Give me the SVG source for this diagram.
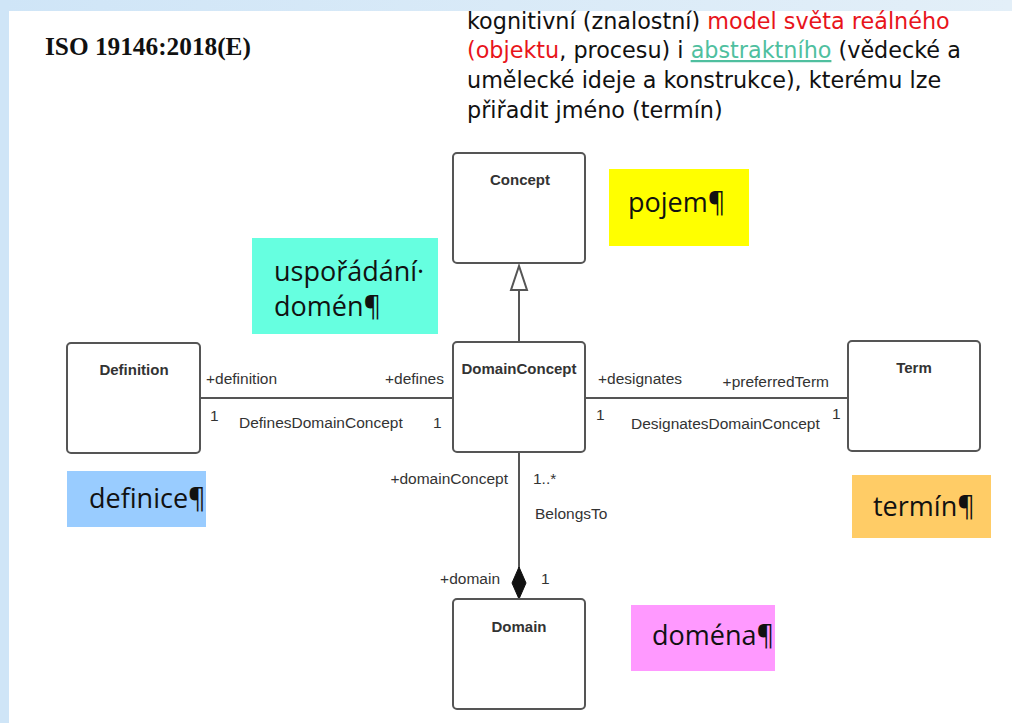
<svg xmlns="http://www.w3.org/2000/svg" width="1012" height="723" viewBox="0 0 1012 723">
<defs>
<linearGradient id="topg" x1="0" y1="0" x2="1" y2="0">
<stop offset="0" stop-color="#cfe5f7"/><stop offset="1" stop-color="#e3eff8"/>
</linearGradient>
</defs>
<style>
.cls{fill:#fff;stroke:#555;stroke-width:2}
.cn{font-family:"Liberation Sans",Arial,sans-serif;font-size:15px;font-weight:bold;fill:#333;text-anchor:middle}
.lb{font-family:"Liberation Sans",Arial,sans-serif;font-size:15.5px;fill:#333}
.ln{stroke:#555;stroke-width:2;fill:none}
.note{font-family:"Open Sans","Noto Sans",sans-serif;font-size:27px;fill:#111}
.para{font-family:"DejaVu Sans",Verdana,sans-serif;font-size:22.3px;fill:#111}
</style>
<rect x="0" y="0" width="1012" height="723" fill="#fff"/>
<rect x="0" y="0" width="1012" height="11" fill="url(#topg)"/>
<rect x="0" y="0" width="9" height="723" fill="#cfe5f7"/>
<text x="45" y="55" font-family="Liberation Serif,'Times New Roman',serif" font-size="25.3" font-weight="bold" fill="#111">ISO 19146:2018(E)</text>
<g id="definition-text">
<text class="para" x="467" y="29">kognitivní (znalostní) <tspan fill="#e8141b">model světa reálného</tspan></text>
<text class="para" x="467" y="58"><tspan fill="#e8141b">(objektu</tspan>, procesu) i <tspan fill="#4fbf9f" text-decoration="underline">abstraktního</tspan> (vědecké a</text>
<text class="para" x="467" y="88">umělecké ideje a konstrukce), kterému lze</text>
<text class="para" x="467" y="118">přiřadit jméno (termín)</text>
</g>
<g id="connectors">
<line class="ln" x1="519" y1="342" x2="519" y2="290"/>
<polygon points="519,266 511,290 527,290" fill="#fff" stroke="#555" stroke-width="2"/>
<line class="ln" x1="200" y1="398" x2="453" y2="398"/>
<line class="ln" x1="585" y1="398" x2="848" y2="398"/>
<line class="ln" x1="519" y1="452" x2="519" y2="568"/>
<polygon points="519,567 526,583 519,599 512,583" fill="#111" stroke="#111" stroke-width="1"/>
<text class="lb" x="206" y="384">+definition</text>
<text class="lb" x="444" y="384" text-anchor="end">+defines</text>
<text class="lb" x="210" y="421">1</text>
<text class="lb" x="239" y="428">DefinesDomainConcept</text>
<text class="lb" x="433" y="428">1</text>
<text class="lb" x="598" y="384">+designates</text>
<text class="lb" x="829" y="387" text-anchor="end">+preferredTerm</text>
<text class="lb" x="596" y="420">1</text>
<text class="lb" x="631" y="429">DesignatesDomainConcept</text>
<text class="lb" x="832" y="419">1</text>
<text class="lb" x="508" y="484" text-anchor="end">+domainConcept</text>
<text class="lb" x="533" y="484">1..*</text>
<text class="lb" x="535" y="519">BelongsTo</text>
<text class="lb" x="500" y="584" text-anchor="end">+domain</text>
<text class="lb" x="541" y="584">1</text>
</g>
<g id="concept">
<rect class="cls" x="453" y="153" width="132" height="110" rx="4"/>
<text class="cn" x="520" y="185">Concept</text>
</g>
<g id="domainconcept">
<rect class="cls" x="453" y="342" width="132" height="110" rx="4"/>
<text class="cn" x="519" y="374">DomainConcept</text>
</g>
<g id="definition">
<rect class="cls" x="67" y="343" width="133" height="110" rx="4"/>
<text class="cn" x="134" y="375">Definition</text>
</g>
<g id="term">
<rect class="cls" x="848" y="341" width="132" height="110" rx="4"/>
<text class="cn" x="914" y="373">Term</text>
</g>
<g id="domain">
<rect class="cls" x="453" y="599" width="132" height="110" rx="4"/>
<text class="cn" x="519" y="632">Domain</text>
</g>
<g id="note-pojem">
<rect x="609" y="169" width="140" height="77" fill="#ffff00"/>
<text class="note" x="628" y="212">pojem¶</text>
</g>
<g id="note-usporadani">
<rect x="252" y="238" width="186" height="96" fill="#66ffe0"/>
<text class="note" x="274" y="281">uspořádání·</text>
<text class="note" x="274" y="316">domén¶</text>
</g>
<g id="note-definice">
<rect x="67" y="471" width="139" height="56" fill="#99ccff"/>
<text class="note" x="89" y="508">definice¶</text>
</g>
<g id="note-termin">
<rect x="852" y="475" width="139" height="63" fill="#ffcc66"/>
<text class="note" x="873" y="516">termín¶</text>
</g>
<g id="note-domena">
<rect x="631" y="605" width="144" height="66" fill="#ff99ff"/>
<text class="note" x="652" y="645">doména¶</text>
</g>
</svg>
